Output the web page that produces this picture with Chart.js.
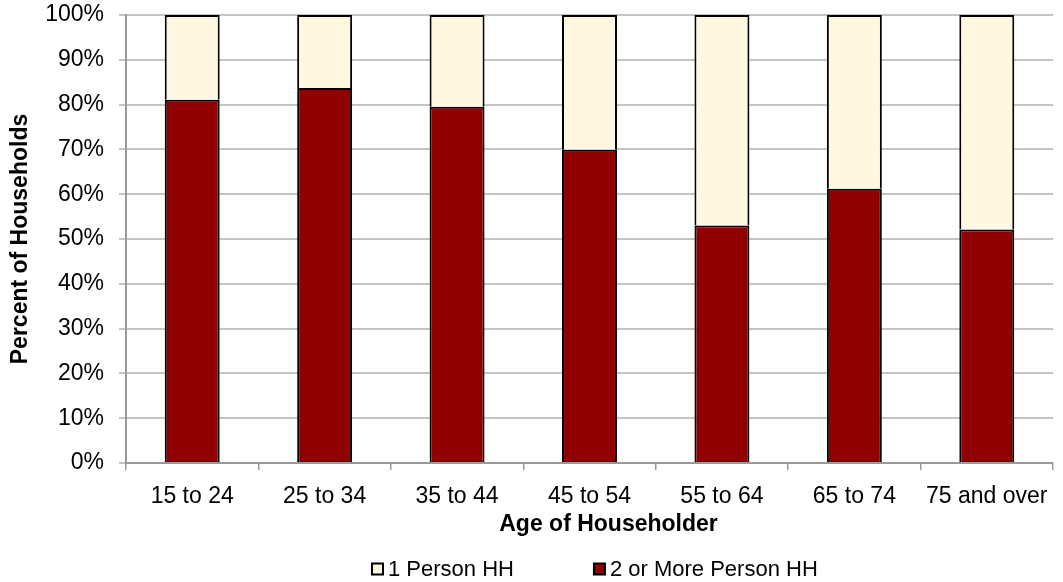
<!DOCTYPE html>
<html><head><meta charset="utf-8">
<script src="https://cdn.jsdelivr.net/npm/chart.js@4/dist/chart.umd.min.js"></script>
<style>html,body{margin:0;padding:0;background:#fff}#wrap{width:1063px;height:582px;position:relative}</style>
</head><body><div id="wrap"><canvas id="c" width="1063" height="582"></canvas></div>
<script>
const categories = ['15 to 24', '25 to 34', '35 to 44', '45 to 54', '55 to 64', '65 to 74', '75 and over'];
const multiPersonHH = [81.1, 83.7, 79.5, 69.9, 53.0, 61.2, 52.1];
const onePersonHH = [18.9, 16.3, 20.5, 30.1, 47.0, 38.8, 47.9];
const yTickLabels = ['0%', '10%', '20%', '30%', '40%', '50%', '60%', '70%', '80%', '90%', '100%'];
const seriesNames = ['2 or More Person HH', '1 Person HH'];
const xTitle = 'Age of Householder';
const yTitle = 'Percent of Households';

const FONT = "'Liberation Sans', Arial, sans-serif";

const customLegendAndTitle = {
  id: 'customLegendAndTitle',
  afterDraw(chart) {
    const ctx = chart.ctx;
    const ca = chart.chartArea;
    ctx.save();
    // x axis title
    ctx.font = 'bold 23px ' + FONT;
    ctx.fillStyle = '#000';
    ctx.textAlign = 'center';
    ctx.textBaseline = 'middle';
    ctx.fillText(xTitle, (ca.left + ca.right) / 2 + 19, 525);
    // legend (reversed order)
    ctx.font = '22px ' + FONT;
    ctx.textAlign = 'left';
    let x = 372;
    const yMid = 569;
    const ds = chart.data.datasets.slice().reverse();
    ds.forEach((d) => {
      ctx.fillStyle = d.backgroundColor;
      ctx.fillRect(x, yMid - 5.5, 11, 11);
      ctx.lineWidth = 2;
      ctx.strokeStyle = '#000';
      ctx.strokeRect(x, yMid - 5.5, 11, 11);
      ctx.fillStyle = '#000';
      ctx.fillText(d.label, x + 16, yMid + 1);
      x += 16 + ctx.measureText(d.label).width + 80;
    });
    ctx.restore();
  }
};

new Chart(document.getElementById('c'), {
  type: 'bar',
  data: {
    labels: categories,
    datasets: [
      { label: seriesNames[0], data: multiPersonHH, backgroundColor: '#8f0000', borderColor: '#000', borderWidth: 2 },
      { label: seriesNames[1], data: onePersonHH, backgroundColor: '#fff7df', borderColor: '#000', borderWidth: 2 }
    ]
  },
  options: {
    responsive: false,
    devicePixelRatio: 1,
    animation: false,
    layout: { padding: { left: 0, right: 10, top: 15, bottom: 44 } },
    datasets: { bar: { categoryPercentage: 1, barPercentage: 0.415 } },
    plugins: { legend: { display: false }, tooltip: { enabled: false } },
    scales: {
      x: {
        stacked: true,
        grid: { offset: true, drawOnChartArea: false, drawTicks: true, tickLength: 7, color: '#999', lineWidth: 1.5 },
        border: { color: '#999', width: 2 },
        ticks: { font: { size: 23, family: FONT }, color: '#000', padding: 13, maxRotation: 0, autoSkip: false },
        afterFit(scale) { scale.height = 75; }
      },
      y: {
        stacked: true,
        min: 0, max: 100,
        ticks: { stepSize: 10, font: { size: 23, family: FONT }, color: '#000', padding: 15,
          callback: (v, i) => yTickLabels[i] },
        grid: { color: '#c4c4c4', lineWidth: 2, tickLength: 7 },
        border: { color: '#999', width: 2 },
        title: { display: true, text: yTitle, font: { size: 23, weight: 'bold', family: FONT }, color: '#000', padding: { top: 7, bottom: 0 } },
        afterFit(scale) { scale.width = 126; scale.paddingTop = 0; scale.paddingBottom = 0; }
      }
    }
  },
  plugins: [customLegendAndTitle]
});
</script></body></html>
